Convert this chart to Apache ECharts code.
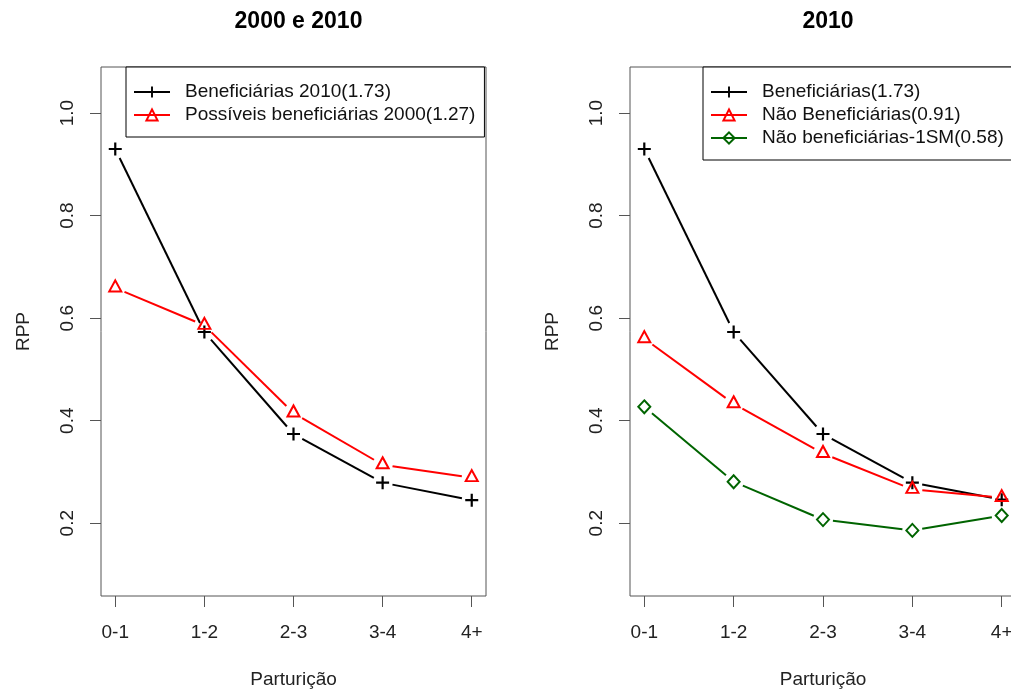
<!DOCTYPE html>
<html>
<head>
<meta charset="utf-8">
<script src="https://cdn.jsdelivr.net/npm/echarts@6/dist/echarts.min.js"></script>
<style>
  html, body { margin: 0; padding: 0; background: #fff; }
  #chart { width: 1011px; height: 690px; }
</style>
</head>
<body>
<div id="chart"></div>
<script>
// ---- Data ----
const categories = ['0-1', '1-2', '2-3', '3-4', '4+'];
const yTicks = [0.2, 0.4, 0.6, 0.8, 1.0];

// Left panel: 2000 e 2010
const ben2010 = [0.930, 0.573, 0.374, 0.279, 0.245];
const poss2000 = [0.659, 0.586, 0.415, 0.314, 0.289];

// Right panel: 2010
const ben = [0.930, 0.573, 0.374, 0.279, 0.246];
const naoBen = [0.560, 0.433, 0.336, 0.266, 0.250];
const naoBen1SM = [0.427, 0.281, 0.207, 0.186, 0.215];

const titles = ['2000 e 2010', '2010'];
const leftNames = ['Beneficiárias 2010(1.73)', 'Possíveis beneficiárias 2000(1.27)'];
const rightNames = ['Beneficiárias(1.73)', 'Não Beneficiárias(0.91)', 'Não beneficiárias-1SM(0.58)'];

// ---- Styles ----
const FONT = "'Liberation Sans', Arial, sans-serif";
const PLUS = 'path://M5.4,0H7.6V5.4H13V7.6H7.6V13H5.4V7.6H0V5.4H5.4Z';
const BLACK = '#000000', RED = '#ff0000', GREEN = '#006400';

function segData(vals) {
  return vals.slice(0, -1).map((v, i) => [i, v, vals[i + 1]]);
}
function gapRenderer(color) {
  return function (params, api) {
    const x = api.value(0);
    const p1 = api.coord([x, api.value(1)]);
    const p2 = api.coord([x + 1, api.value(2)]);
    const dx = p2[0] - p1[0], dy = p2[1] - p1[1];
    const L = Math.sqrt(dx * dx + dy * dy);
    const g = 10;
    if (L <= 2 * g) return null;
    const ux = dx / L, uy = dy / L;
    return {
      type: 'line',
      shape: { x1: p1[0] + ux * g, y1: p1[1] + uy * g, x2: p2[0] - ux * g, y2: p2[1] - uy * g },
      style: { stroke: color, lineWidth: 2 }
    };
  };
}
function segSeries(vals, color, idx) {
  return {
    type: 'custom', xAxisIndex: idx, yAxisIndex: idx,
    renderItem: gapRenderer(color),
    data: segData(vals), encode: { x: 0, y: [1, 2] }, silent: true, z: 2
  };
}
function markSeries(name, vals, color, kind, idx) {
  const s = {
    type: 'line', name: name, xAxisIndex: idx, yAxisIndex: idx,
    data: vals.map((v, i) => [i, v]),
    showSymbol: true, showAllSymbol: true,
    lineStyle: { color: color, width: 2, opacity: 0 },
    z: 3
  };
  if (kind === 'plus') {
    s.symbol = PLUS; s.symbolSize = 13;
    s.itemStyle = { color: color, borderWidth: 0 };
  } else if (kind === 'tri') {
    s.symbol = 'triangle'; s.symbolSize = [12, 11]; s.symbolOffset = [0, -2];
    s.itemStyle = { color: 'rgba(0,0,0,0)', borderColor: color, borderWidth: 2 };
  } else {
    s.symbol = 'diamond'; s.symbolSize = [12, 13];
    s.itemStyle = { color: 'rgba(0,0,0,0)', borderColor: color, borderWidth: 2 };
  }
  return s;
}

function xAxisFor(idx) {
  return {
    type: 'value', gridIndex: idx, min: -0.16, max: 4.16,
    name: 'Parturição', nameLocation: 'middle', nameGap: 74,
    nameTextStyle: { fontFamily: FONT, fontSize: 19, color: '#222' },
    axisLine: { show: false, onZero: false },
    splitLine: { show: false },
    axisTick: { show: true, length: 11, inside: false, customValues: [0, 1, 2, 3, 4], lineStyle: { color: '#555', width: 1 } },
    axisLabel: {
      customValues: [0, 1, 2, 3, 4], margin: 27,
      formatter: v => categories[Math.round(v)],
      fontFamily: FONT, fontSize: 19, color: '#222'
    }
  };
}
function yAxisFor(idx) {
  return {
    type: 'value', gridIndex: idx, min: 0.058, max: 1.09,
    name: 'RPP', nameLocation: 'middle', nameGap: 68, nameRotate: 90,
    nameTextStyle: { fontFamily: FONT, fontSize: 19, color: '#222' },
    axisLine: { show: false, onZero: false },
    splitLine: { show: false },
    axisTick: { show: true, length: 11, inside: false, customValues: yTicks, lineStyle: { color: '#555', width: 1 } },
    axisLabel: {
      customValues: yTicks, rotate: 90, margin: 24,
      formatter: v => v.toFixed(1),
      fontFamily: FONT, fontSize: 19, color: '#222'
    }
  };
}
function legendFor(names, left) {
  return {
    orient: 'vertical', left: left, top: 67,
    padding: [14, 9, 11, 7],
    itemWidth: 36, itemHeight: 14, itemGap: 1,
    borderColor: '#000', borderWidth: 1, backgroundColor: '#fff',
    textStyle: { fontFamily: FONT, fontSize: 19, lineHeight: 22, color: '#111', padding: [0, 0, 0, 10] },
    data: names.map(n => ({ name: n, lineStyle: { opacity: 1, width: 2 } })),
    selectedMode: false
  };
}
function gridFor(left, width) {
  return {
    left: left, top: 67, width: width, height: 529,
    show: true, borderColor: '#555', borderWidth: 1, backgroundColor: 'rgba(0,0,0,0)',
    containLabel: false, outerBoundsMode: 'none'
  };
}

const option = {
  animation: false,
  backgroundColor: '#fff',
  title: [
    { text: titles[0], left: 293.5, top: 5, textAlign: 'center',
      textStyle: { fontFamily: FONT, fontSize: 23, fontWeight: 'bold', color: '#000' } },
    { text: titles[1], left: 823, top: 5, textAlign: 'center',
      textStyle: { fontFamily: FONT, fontSize: 23, fontWeight: 'bold', color: '#000' } }
  ],
  grid: [gridFor(101, 385), gridFor(630, 386)],
  xAxis: [xAxisFor(0), xAxisFor(1)],
  yAxis: [yAxisFor(0), yAxisFor(1)],
  legend: [legendFor(leftNames, 126), legendFor(rightNames, 703)],
  series: [
    segSeries(ben2010, BLACK, 0),
    markSeries(leftNames[0], ben2010, BLACK, 'plus', 0),
    segSeries(poss2000, RED, 0),
    markSeries(leftNames[1], poss2000, RED, 'tri', 0),
    segSeries(ben, BLACK, 1),
    markSeries(rightNames[0], ben, BLACK, 'plus', 1),
    segSeries(naoBen, RED, 1),
    markSeries(rightNames[1], naoBen, RED, 'tri', 1),
    segSeries(naoBen1SM, GREEN, 1),
    markSeries(rightNames[2], naoBen1SM, GREEN, 'dia', 1)
  ]
};

const chart = echarts.init(document.getElementById('chart'), null, { renderer: 'canvas' });
chart.setOption(option);
</script>
</body>
</html>
